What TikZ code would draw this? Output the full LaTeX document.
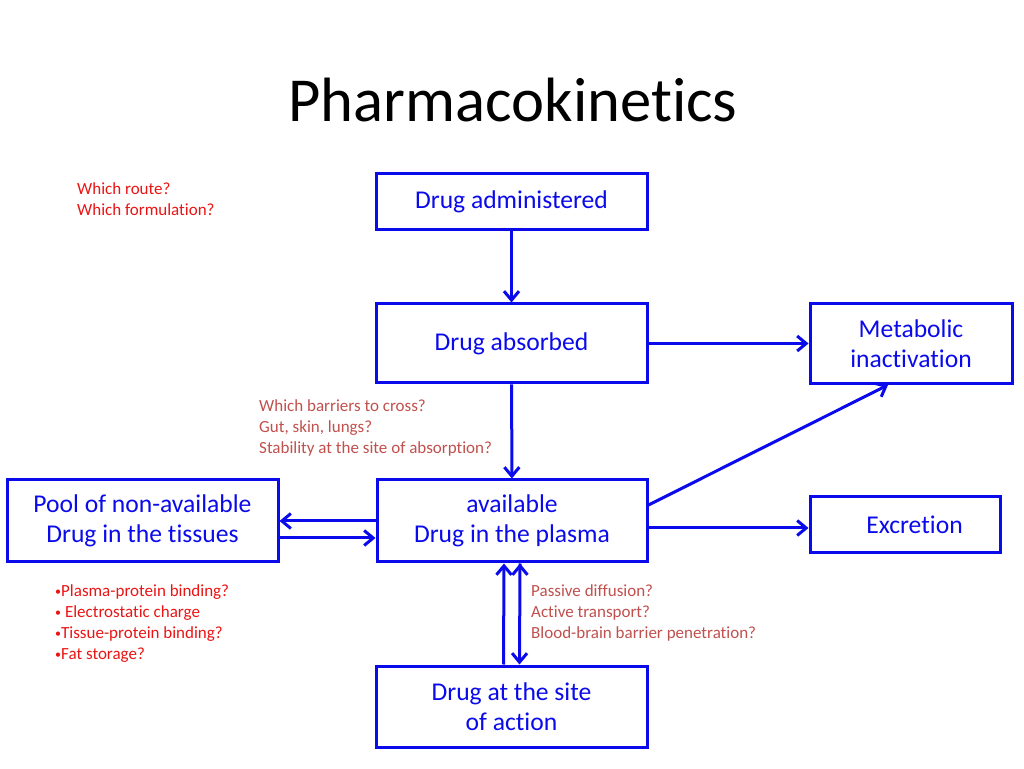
\documentclass[tikz,border=0pt]{standalone}
\usepackage{fontspec}
\setmainfont{Carlito}[Ligatures={NoCommon}]
\usetikzlibrary{positioning, arrows.meta}
\definecolor{pkblue}{RGB}{10,10,235}
\definecolor{pkred}{RGB}{235,20,20}
\definecolor{pkbrown}{RGB}{192,80,77}
\newcommand{\pkdot}{{\fontsize{12}{12}\selectfont\raisebox{1.5pt}{•}}}
\tikzset{
->, % every connector gets a head
>={Straight Barb[length=9pt,width=15pt]}, % open heads as on the slide
node distance=150pt, % centre to centre, changed per node below
block/.style={draw=pkblue, line width=3pt, text=pkblue, align=center, inner sep=0pt, minimum width=271pt, font=\fontsize{25.6}{30.5}\selectfont}, % the blue boxes
question/.style={anchor=west, align=left, inner sep=0pt, font=\fontsize{17}{21}\selectfont}, % the small notes
}

\begin{document}
\begin{tikzpicture}[x=1pt, y=1pt]
    \useasboundingbox (0,0) rectangle (1024,768);
    \node[font=\fontsize{62.6}{70}\selectfont] (title) at (513,668) {Pharmacokinetics};
    \node[block, minimum height=56pt] (adm) at (511.5,566) {\raisebox{-3pt}{Drug administered}};
    \node[block, minimum height=79pt, below of=adm, node distance=141.5pt] (abs) {\raisebox{1pt}{Drug absorbed}};
    \node[block, minimum height=82pt, minimum width=270pt, below of=abs, node distance=177.5pt, xshift=0.5pt] (plasma) {available\\Drug in the plasma};
    \node[block, minimum height=81pt, below of=plasma, node distance=185.5pt, xshift=-0.5pt] (site) {Drug at the site\\of action};
    \node[block, minimum height=82pt, left of=plasma, node distance=369.5pt] (pool) {Pool of non-available\\Drug in the tissues};
    \node[block, minimum height=80pt, minimum width=202pt, right of=abs, node distance=399.5pt] (metab) {Metabolic\\inactivation};
    \node[block, minimum height=56pt, minimum width=190pt, right of=plasma, node distance=393pt, yshift=-4pt] (excr) {\hspace*{19pt}Excretion};
    \node[question, text=pkred] (route) at (77,569) {Which route?\\Which formulation?};
    \node[question, text=pkbrown] (barrier) at (259,340) {Which barriers to cross?\\Gut, skin, lungs?\\Stability at the site of absorption?};
    \node[question, text=pkred] (binding) at (55,144) {\pkdot Plasma-protein binding?\\\pkdot\ Electrostatic charge\\\pkdot Tissue-protein binding?\\\pkdot Fat storage?};
    \node[question, text=pkbrown] (transport) at (531,155) {Passive diffusion?\\Active transport?\\Blood-brain barrier penetration?};
    \draw[pkblue, line width=3pt]
    (adm) edge (abs)
    (abs) edge (plasma)
    (abs) edge (metab)
    (plasma) edge (pool)
    ([yshift=-17pt]pool.east) edge ([yshift=-17pt]plasma.west)
    ([yshift=16pt]plasma.east) edge ([xshift=-23pt]metab.south)
    ([yshift=-7pt]plasma.east) edge ([yshift=-7pt]plasma.east -| excr.west)
    ([xshift=-8pt]site.north) edge ([xshift=-8pt]plasma.south)
    ([xshift=8pt]plasma.south) edge ([xshift=8pt]site.north);
\end{tikzpicture}
\end{document}
